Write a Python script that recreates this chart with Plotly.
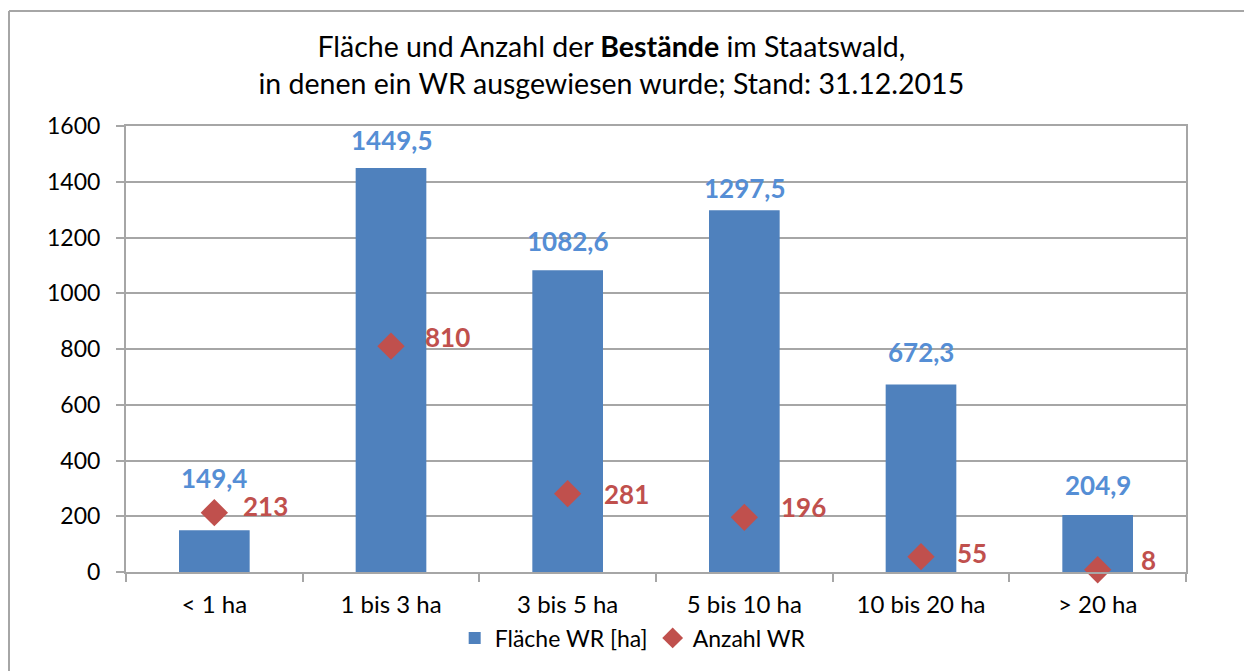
import plotly.graph_objects as go

categories = ["< 1 ha", "1 bis 3 ha", "3 bis 5 ha", "5 bis 10 ha", "10 bis 20 ha", "> 20 ha"]
flaeche = [149.4, 1449.5, 1082.6, 1297.5, 672.3, 204.9]
anzahl = [213, 810, 281, 196, 55, 8]
y_ticks = [0, 200, 400, 600, 800, 1000, 1200, 1400, 1600]

# label placement offsets in pixels (styling, as the labels were hand-placed)
blue_label_dy = [52, 28, 29, 22, 33, 30]
red_label_dx = [29, 34, 36, 37, 36, 43]
red_label_dy = [7, 9, 0, 10, 4, 10]

FONT = "Lato"
BLUE = "#4F81BD"
BLUE_LBL = "#558ED5"
RED = "#C0504D"
GRID = "#A6A6A6"

fig = go.Figure()
fig.add_trace(go.Bar(
    x=categories, y=flaeche, name="Fläche WR [ha]",
    marker=dict(color=BLUE, line=dict(width=0)),
    width=0.4,
))
fig.add_trace(go.Scatter(
    x=categories, y=anzahl, name="Anzahl WR", mode="markers",
    marker=dict(symbol="diamond", size=21, color=RED),
    cliponaxis=False,
))

for c, v, dy in zip(categories, flaeche, blue_label_dy):
    fig.add_annotation(
        x=c, y=v, text="<b>" + f"{v:.1f}".replace(".", ",") + "</b>",
        showarrow=False, yanchor="middle", yshift=dy,
        font=dict(family=FONT, size=26, color=BLUE_LBL),
    )
for c, v, dx, dy in zip(categories, anzahl, red_label_dx, red_label_dy):
    fig.add_annotation(
        x=c, y=v, text="<b>" + str(v) + "</b>",
        showarrow=False, xanchor="left", yanchor="middle", xshift=dx - 2, yshift=dy,
        font=dict(family=FONT, size=26, color=RED),
    )

# outer chart frame (top and left edges visible)
fig.add_shape(type="line", xref="paper", yref="paper",
              x0=(9 - 126) / 1060, x1=(1300 - 126) / 1060,
              y0=(572 - 11) / 446, y1=(572 - 11) / 446,
              line=dict(color=GRID, width=2), layer="above")
fig.add_shape(type="line", xref="paper", yref="paper",
              x0=(9 - 126) / 1060, x1=(9 - 126) / 1060,
              y0=(572 - 11) / 446, y1=(572 - 700) / 446,
              line=dict(color=GRID, width=2), layer="above")

fig.update_layout(
    width=1244, height=663,
    margin=dict(l=118, r=66, t=118, b=99),
    paper_bgcolor="white", plot_bgcolor="white",
    separators=",.",
    font=dict(family=FONT, size=23, color="black"),
    title=dict(
        text="Fläche und Anzahl der <b>Bestände</b> im Staatswald,<br>in denen ein WR ausgewiesen wurde; Stand: 31.12.2015",
        x=0.485, xanchor="center", y=0.926, yanchor="middle",
        font=dict(family=FONT, size=28.5, color="black"),
    ),
    showlegend=True,
    legend=dict(orientation="h", x=0.478, xanchor="center", y=-0.148, yanchor="middle",
                font=dict(family=FONT, size=23), itemwidth=30, tracegroupgap=0),
    bargap=0.6,
)
fig.update_xaxes(
    showline=True, linecolor=GRID, linewidth=2, mirror=True,
    ticks="outside", ticklen=8, tickcolor=GRID, tickwidth=1.5,
    tickson="boundaries", showgrid=False,
    tickfont=dict(family=FONT, size=24), ticklabelstandoff=10,
)
fig.update_yaxes(
    range=[0, 1600], tickvals=y_ticks, showline=True, linecolor=GRID, linewidth=2, mirror=True,
    ticks="outside", ticklen=8, tickcolor=GRID, tickwidth=1.5,
    showgrid=True, gridcolor=GRID, gridwidth=1.5, zeroline=False,
    tickfont=dict(family=FONT, size=23), ticklabelstandoff=11,
)

fig.write_html("out.html")
